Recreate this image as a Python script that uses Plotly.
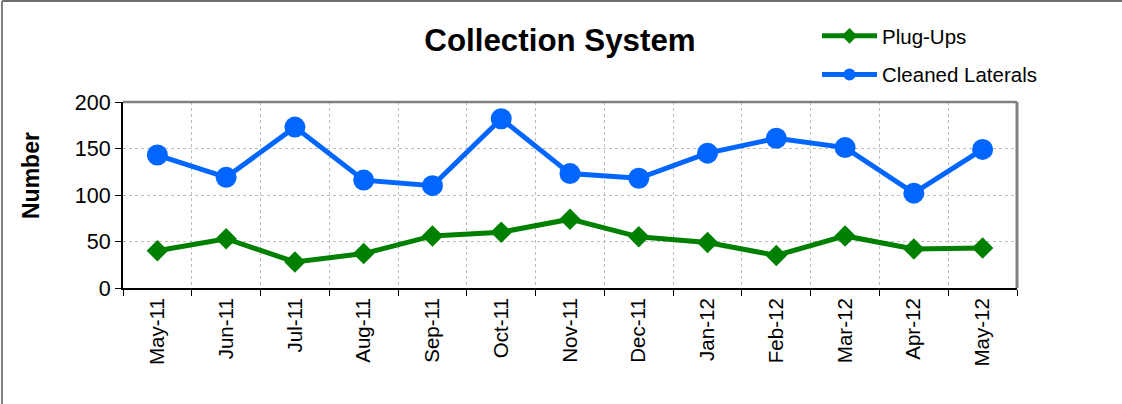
import plotly.graph_objects as go

months = ["May-11", "Jun-11", "Jul-11", "Aug-11", "Sep-11", "Oct-11", "Nov-11",
          "Dec-11", "Jan-12", "Feb-12", "Mar-12", "Apr-12", "May-12"]
plug_ups = [40, 53, 28, 37, 56, 60, 74, 55, 49, 35, 56, 42, 43]
cleaned_laterals = [143, 119, 173, 116, 110, 182, 123, 118, 145, 161, 151, 102, 149]

W, H = 1122, 404
L, R, T, B = 123, 105, 102, 116
pw, ph = W - L - R, H - T - B

def px_x(x):
    return (x - L) / pw

def px_y(y):
    return (H - B - y) / ph

fig = go.Figure()
fig.add_trace(go.Scatter(
    x=months, y=plug_ups, name="Plug-Ups", mode="lines+markers",
    line=dict(color="#008000", width=5),
    marker=dict(symbol="diamond", size=16.5, color="#008000"),
    legendgroup="a"))
fig.add_trace(go.Scatter(
    x=months, y=cleaned_laterals, name="Cleaned Laterals", mode="lines+markers",
    line=dict(color="#0066FF", width=5),
    marker=dict(symbol="circle", size=21, color="#0066FF"),
    legendgroup="b"))

fig.update_layout(
    width=W, height=H,
    margin=dict(l=L, r=R, t=T, b=B, autoexpand=False),
    paper_bgcolor="white", plot_bgcolor="white",
    font=dict(family="Liberation Sans, Arial, sans-serif", color="black"),
    title=dict(text="<b>Collection System</b>", x=560 / W, xanchor="center",
               y=1 - 40 / H, yanchor="middle", font=dict(size=31.3)),
    showlegend=True,
    legend=dict(x=px_x(817), xanchor="left", y=px_y(16),
                yanchor="top", font=dict(size=20.5), bgcolor="rgba(0,0,0,0)",
                tracegroupgap=9, itemsizing="constant", itemwidth=55),
    xaxis=dict(type="category", tickson="boundaries", showgrid=True,
               gridcolor="#bdbdbd", griddash="dot", gridwidth=1,
               showline=True, linecolor="black", linewidth=2,
               ticks="outside", ticklen=6, tickcolor="black",
               tickangle=-90, tickfont=dict(size=20.5), automargin=False,
               range=[-0.5, 12.5]),
    yaxis=dict(range=[0, 200], dtick=50, showgrid=True,
               gridcolor="#bdbdbd", griddash="dot", gridwidth=1,
               showline=True, linecolor="black", linewidth=2,
               ticks="outside", ticklen=6, tickcolor="black",
               tickfont=dict(size=21.5), zeroline=False, automargin=False),
)

# y axis title
fig.add_annotation(text="<b>Number</b>", xref="paper", yref="paper",
                   x=px_x(31), y=px_y(176), xanchor="center", yanchor="middle",
                   textangle=-90, showarrow=False, font=dict(size=23))

# plot area top/right grey border
fig.add_shape(type="line", xref="paper", yref="paper", x0=0, x1=1, y0=1, y1=1,
              line=dict(color="#808080", width=2.5))
fig.add_shape(type="line", xref="paper", yref="paper", x0=1, x1=1, y0=0, y1=1,
              line=dict(color="#808080", width=3))
# outer chart border (top and left)
fig.add_shape(type="line", xref="paper", yref="paper",
              x0=px_x(2), x1=px_x(1122), y0=px_y(1), y1=px_y(1),
              line=dict(color="#404040", width=1.5))
fig.add_shape(type="line", xref="paper", yref="paper",
              x0=px_x(2), x1=px_x(2), y0=px_y(1), y1=px_y(404),
              line=dict(color="#808080", width=2))

fig.write_html(
    "out.html",
    config={"displayModeBar": False},
    post_script=(
        "document.documentElement.style.margin='0';"
        "document.documentElement.style.overflow='hidden';"
        "document.body.style.margin='0';"
        "document.body.style.overflow='hidden';"
    ),
)
